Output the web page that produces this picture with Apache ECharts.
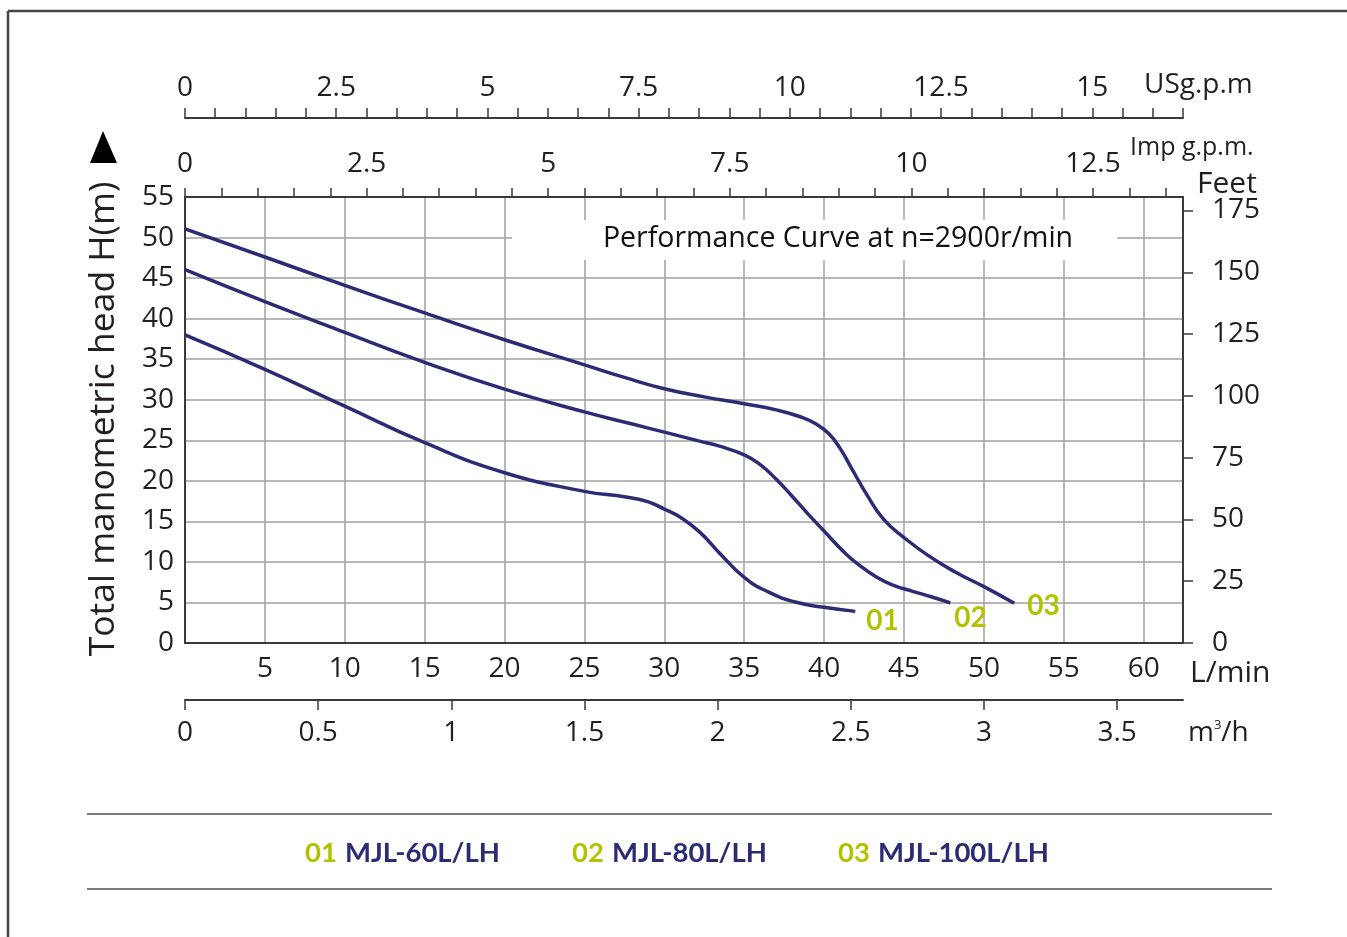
<!DOCTYPE html>
<html><head><meta charset="utf-8">
<script src="https://cdn.jsdelivr.net/npm/echarts@6/dist/echarts.min.js"></script>
<style>html,body{margin:0;padding:0;background:#fff}#c{width:1347px;height:937px}</style>
</head><body><div id="c"></div>
<script>
// ---------- data ----------
const seriesCodes = ['01', '02', '03'];
const seriesModels = ['MJL-60L/LH', 'MJL-80L/LH', 'MJL-100L/LH'];

const flow01 = [0, 5, 10, 15, 20, 25, 27.6, 29, 30, 31, 32.2, 33.4, 35, 36.5, 38.2, 40, 41.95];
const head01 = [38.0, 33.75, 29.2, 24.7, 21.0, 18.7, 18.0, 17.4, 16.5, 15.5, 13.7, 11.2, 8.1, 6.3, 5.05, 4.4, 3.9];

const flow02 = [0, 5, 10, 15, 20, 25, 28, 30, 32.2, 33.4, 35, 36, 37, 38, 39, 40, 41.3, 42.2, 43.3, 44.3, 45.5, 46.7, 47.9];
const head02 = [46.05, 42.1, 38.3, 34.6, 31.3, 28.5, 27.0, 26.0, 24.9, 24.3, 23.2, 22.0, 20.2, 18.1, 15.9, 13.8, 11.1, 9.6, 8.1, 7.15, 6.4, 5.7, 4.95];

const flow03 = [0, 5, 10, 15, 20, 25, 27.5, 30, 32.5, 35, 37, 38.5, 39.5, 40.3, 41, 41.7, 42.7, 43.7, 45, 46.5, 48.2, 50, 51.9];
const head03 = [51.06, 47.6, 44.1, 40.7, 37.4, 34.3, 32.75, 31.35, 30.35, 29.5, 28.75, 27.9, 27.0, 25.8, 24.0, 21.6, 18.2, 15.3, 13.0, 10.8, 8.75, 6.95, 4.9];

const lminLabels = [5, 10, 15, 20, 25, 30, 35, 40, 45, 50, 55, 60];
const feetLabels = [0, 25, 50, 75, 100, 125, 150, 175];
const impLabels = [0, 2.5, 5, 7.5, 10, 12.5];
const usLabels = [0, 2.5, 5, 7.5, 10, 12.5, 15];
const m3hLabels = [0, 0.5, 1, 1.5, 2, 2.5, 3, 3.5];

const titleText = 'Performance Curve at n=2900r/min';
const yTitle = 'Total manometric head H(m)';

// unit conversions (axis extents)
const XMAX = 62.46;            // L/min
const HMAX = 55;               // m
const L_PER_IMP = 4.54609, L_PER_US = 3.78541, FT_PER_M = 3.28084;

function ticksEvery(step, maxV) { const a = []; for (let v = 0; v <= maxV + 1e-9; v += step) a.push(Math.round(v * 100) / 100); return a; }
const impTicks = ticksEvery(0.5, XMAX / L_PER_IMP);
const usTicks = ticksEvery(0.5, XMAX / L_PER_US);

// ---------- style ----------
const FONT = '"Open Sans", sans-serif';
const TXT = '#231f20';
const NAVY = '#2b2c74';
const GREEN = '#b3c200';
const AX = '#3a3a3a';

const chart = echarts.init(document.getElementById('c'));

const pairs = (xs, ys) => xs.map((x, i) => [x, ys[i]]);
const flows = [flow01, flow02, flow03];
const heads = [head01, head02, head03];
const endOffsets = [[11, 10], [4, 15], [13, 3]];

const series = seriesCodes.map((code, i) => ({
  name: code + ' ' + seriesModels[i],
  type: 'line',
  xAxisIndex: 0, yAxisIndex: 0,
  data: pairs(flows[i], heads[i]),
  symbol: 'none',
  smooth: 0.5,
  lineStyle: { color: NAVY, width: 3.5 },
  itemStyle: { color: NAVY },
  silent: true,
  z: 5,
  endLabel: {
    show: true, formatter: code, distance: 0, offset: endOffsets[i],
    color: GREEN, fontFamily: 'Lato, sans-serif', fontWeight: 'bold', fontSize: 28
  }
}));

const lbl = (extra) => Object.assign({ color: TXT, fontFamily: FONT, fontSize: 28 }, extra);

const legendX = [305, 572, 838];
const graphics = [
  // outer frame
  { type: 'line', shape: { x1: 8, y1: 11, x2: 1347, y2: 11 }, style: { stroke: '#444', lineWidth: 2.5 } },
  { type: 'line', shape: { x1: 8, y1: 11, x2: 8, y2: 937 }, style: { stroke: '#444', lineWidth: 2.5 } },
  // title box
  { type: 'rect', shape: { x: 512, y: 220, width: 605, height: 40 }, style: { fill: '#fff' }, z: 10 },
  { type: 'text', x: 838, y: 239, z: 11, style: { text: titleText, align: 'center', verticalAlign: 'middle', fill: '#111', font: '28.5px ' + FONT } },
  // y title + arrow
  { type: 'text', x: 104, y: 419, rotation: Math.PI / 2, z: 11, style: { text: yTitle, align: 'center', verticalAlign: 'middle', fill: TXT, font: '35.5px ' + FONT } },
  { type: 'polygon', shape: { points: [[103, 131], [90, 163], [117, 163]] }, style: { fill: '#000' } },
  // unit labels
  { type: 'text', x: 1144, y: 85, style: { text: 'USg.p.m', verticalAlign: 'middle', fill: TXT, font: '28px ' + FONT } },
  { type: 'text', x: 1130, y: 148, style: { text: 'Imp g.p.m.', verticalAlign: 'middle', fill: TXT, font: '25px ' + FONT } },
  { type: 'text', x: 1197, y: 184, style: { text: 'Feet', verticalAlign: 'middle', fill: TXT, font: '30px ' + FONT } },
  { type: 'text', x: 1190, y: 673, style: { text: 'L/min', verticalAlign: 'middle', fill: TXT, font: '30px ' + FONT } },
  { type: 'text', x: 1188, y: 733, style: { text: '{a|m}{s|3}{a|/h}', verticalAlign: 'middle',
      rich: { a: { fontSize: 28, fontFamily: FONT, fill: TXT }, s: { fontSize: 13, fontFamily: FONT, fill: TXT, verticalAlign: 'top', padding: [0, 0, 14, 0] } } } },
  // legend lines
  { type: 'line', shape: { x1: 87, y1: 814, x2: 1272, y2: 814 }, style: { stroke: '#7a7a7a', lineWidth: 2 } },
  { type: 'line', shape: { x1: 87, y1: 889, x2: 1272, y2: 889 }, style: { stroke: '#7a7a7a', lineWidth: 2 } }
];
seriesCodes.forEach((code, i) => {
  graphics.push({ type: 'text', x: legendX[i], y: 853, style: {
    text: '{c|' + code + '}{sp| }{m|' + seriesModels[i] + '}', verticalAlign: 'middle',
    rich: {
      c: { fill: GREEN, fontFamily: 'Lato, sans-serif', fontWeight: 'bold', fontSize: 27.5 },
      sp: { fill: NAVY, fontFamily: 'Lato, sans-serif', fontSize: 27.5, width: 8 },
      m: { fill: NAVY, fontFamily: 'Lato, sans-serif', fontWeight: 'bold', fontSize: 27.5 }
    } } });
});

chart.setOption({
  animation: false,
  backgroundColor: '#fff',
  grid: { left: 185, right: 164, top: 197, bottom: 294, containLabel: false },
  xAxis: [
    { // L/min
      type: 'value', position: 'bottom', min: 0, max: XMAX, interval: 5,
      axisLine: { show: true, onZero: false, lineStyle: { color: AX, width: 2 } },
      axisTick: { show: false },
      axisLabel: lbl({ margin: 12, customValues: lminLabels }),
      splitLine: { show: true, lineStyle: { color: '#a0a0a0', width: 1.5 } }
    },
    { // Imp g.p.m.
      type: 'value', position: 'top', offset: 0, min: 0, max: XMAX / L_PER_IMP,
      axisLine: { show: true, onZero: false, lineStyle: { color: AX, width: 2 } },
      axisTick: { show: true, length: 9, customValues: impTicks, lineStyle: { color: AX, width: 1.5 } },
      axisLabel: lbl({ margin: 19, customValues: impLabels }),
      splitLine: { show: false }
    },
    { // US g.p.m
      type: 'value', position: 'top', offset: 79, min: 0, max: XMAX / L_PER_US,
      axisLine: { show: true, onZero: false, lineStyle: { color: AX, width: 2 } },
      axisTick: { show: true, length: 10, customValues: usTicks, lineStyle: { color: AX, width: 1.5 } },
      axisLabel: lbl({ margin: 16, customValues: usLabels }),
      splitLine: { show: false }
    },
    { // m3/h
      type: 'value', position: 'bottom', offset: 57, min: 0, max: XMAX * 0.06,
      axisLine: { show: true, onZero: false, lineStyle: { color: AX, width: 2 } },
      axisTick: { show: true, length: 10, customValues: m3hLabels, lineStyle: { color: AX, width: 1.5 } },
      axisLabel: lbl({ margin: 19, customValues: m3hLabels }),
      splitLine: { show: false }
    }
  ],
  yAxis: [
    {
      type: 'value', position: 'left', min: 0, max: HMAX, interval: 5,
      axisLine: { show: true, onZero: false, lineStyle: { color: AX, width: 2 } },
      axisTick: { show: false },
      axisLabel: lbl({ margin: 11 }),
      splitLine: { show: true, lineStyle: { color: '#a0a0a0', width: 1.5 } }
    },
    {
      type: 'value', position: 'right', min: 0, max: HMAX * FT_PER_M,
      axisLine: { show: true, onZero: false, lineStyle: { color: AX, width: 2 } },
      axisTick: { show: true, length: 10, customValues: feetLabels, lineStyle: { color: AX, width: 1.5 } },
      axisLabel: lbl({ margin: 29, customValues: feetLabels }),
      splitLine: { show: false }
    }
  ],
  series: series,
  graphic: graphics
});
</script>
</body></html>
